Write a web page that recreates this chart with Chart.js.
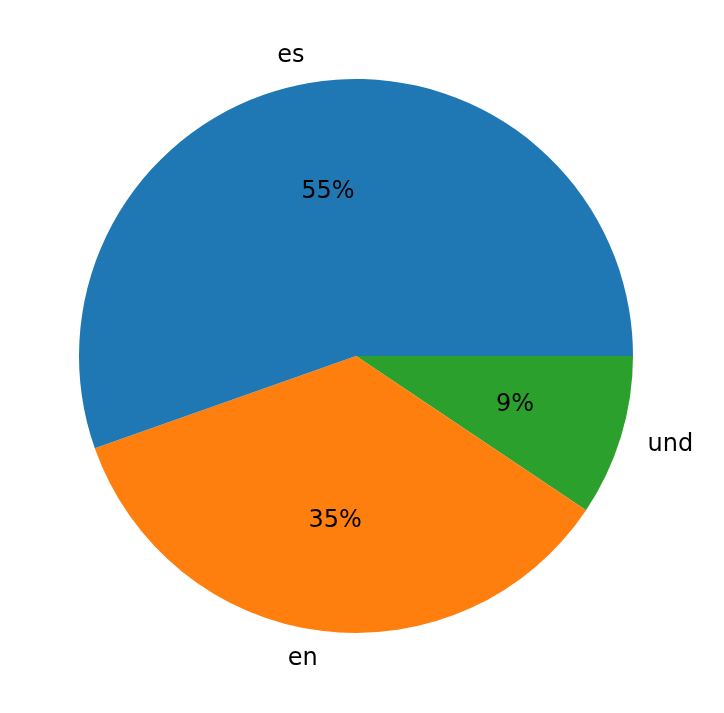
<!DOCTYPE html>
<html><head><meta charset="utf-8">
<script src="https://cdn.jsdelivr.net/npm/chart.js@4/dist/chart.umd.min.js"></script>
<style>html,body{margin:0;padding:0;background:#fff}</style>
</head><body>
<canvas id="c" width="724" height="713"></canvas>
<script>
// Order reversed so Chart.js (clockwise) matches matplotlib's counterclockwise layout
const categories = ["und", "en", "es"];
const values = [9.4, 35.2, 55.4];
const colors = ["#2ca02c", "#ff7f0e", "#1f77b4"];

const labelPlugin = {
  id: 'pieLabels',
  afterDatasetsDraw(chart) {
    const ctx = chart.ctx;
    const meta = chart.getDatasetMeta(0);
    const total = values.reduce((a, b) => a + b, 0);
    ctx.save();
    ctx.fillStyle = '#000';
    ctx.font = '24px "DejaVu Sans"';
    ctx.textBaseline = 'middle';
    meta.data.forEach((arc, i) => {
      const p = arc.getProps(['x', 'y', 'startAngle', 'endAngle', 'outerRadius'], true);
      const mid = (p.startAngle + p.endAngle) / 2;
      const c = Math.cos(mid), s = Math.sin(mid);
      const lx = p.x + 1.1 * p.outerRadius * c, ly = p.y + 1.1 * p.outerRadius * s;
      ctx.textAlign = c >= 0 ? 'left' : 'right';
      ctx.fillText(categories[i], lx, ly);
      ctx.textAlign = 'center';
      ctx.fillText((values[i] / total * 100).toFixed(0) + '%', p.x + 0.6 * p.outerRadius * c, p.y + 0.6 * p.outerRadius * s);
    });
    ctx.restore();
  }
};

new Chart(document.getElementById('c'), {
  type: 'pie',
  data: { labels: categories, datasets: [{ data: values, backgroundColor: colors, borderWidth: 0 }] },
  options: {
    responsive: false, animation: false, rotation: 90,
    layout: { padding: { left: 79, right: 91, top: 79, bottom: 80 } },
    plugins: { legend: { display: false }, tooltip: { enabled: false } }
  },
  plugins: [labelPlugin]
});
</script>
</body></html>
